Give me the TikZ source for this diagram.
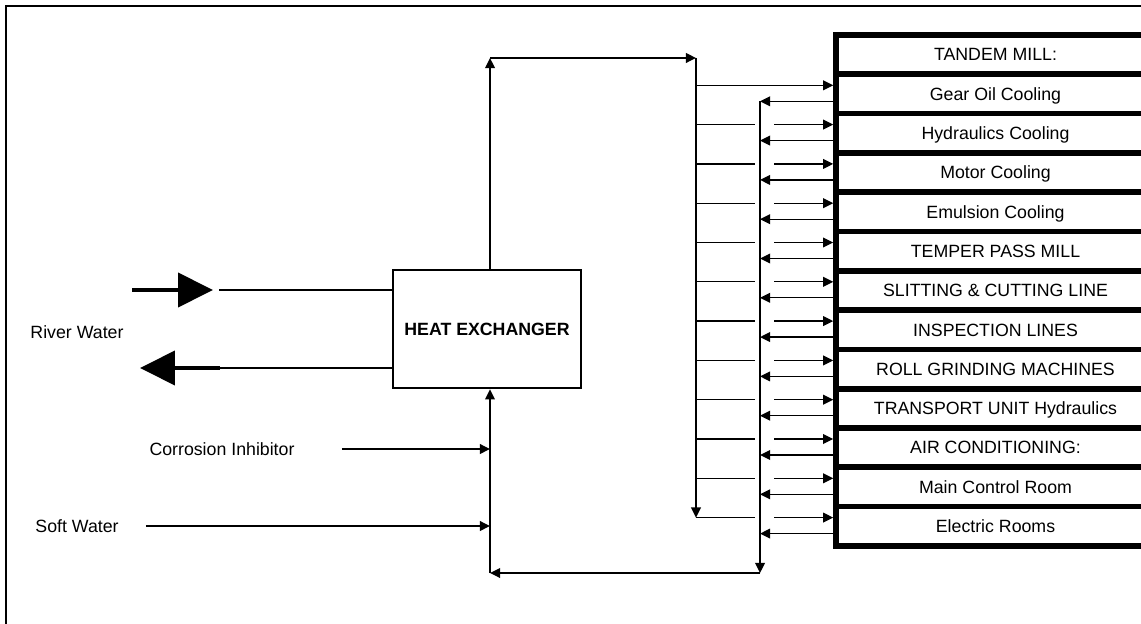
\documentclass[tikz,border=0pt]{standalone}
\usepackage{fontspec}
\setmainfont{Liberation Sans}
\usetikzlibrary{arrows.meta}

\begin{document}
\begin{tikzpicture}[
    x=0.02cm, y=-0.02cm,
    >={Triangle[length=5.8pt,width=5.6pt]},
    pipe/.style={line width=0.75pt},
    bigpipe/.style={line width=2.3pt,-{Triangle[length=0.7cm,width=0.68cm]}},
    unit/.style={draw,line width=3.2pt,minimum width=6.38cm,minimum height=0.786cm,
        inner sep=0pt,text height=7.2pt,text depth=0pt,
        font=\fontsize{10.1}{12}\selectfont},
    lbl/.style={inner sep=0pt,font=\fontsize{10.1}{12}\selectfont},
]
\useasboundingbox (0,0) rectangle (1141,624);
\clip (0,0) rectangle (1141,624);

% Frame
\draw[line width=1.1pt] (6,624) -- (6,6) -- (1141,6);

% Heat exchanger
\node[draw,line width=1.5pt,minimum width=3.76cm,minimum height=2.36cm,
    font=\fontsize{10.1}{12}\selectfont\bfseries] (hx) at (487,329) {HEAT EXCHANGER};

% Consumers
\foreach \lab [count=\k from 0] in {TANDEM MILL:, Gear Oil Cooling,
    Hydraulics Cooling, Motor Cooling, Emulsion Cooling, TEMPER PASS MILL,
    SLITTING \& CUTTING LINE, INSPECTION LINES, ROLL GRINDING MACHINES,
    TRANSPORT UNIT Hydraulics, AIR CONDITIONING:, Main Control Room,
    Electric Rooms} {
    \node[unit] (r\k) at (995.5,{54.65+39.3*\k}) {\lab};
}

% Trunk corners
\coordinate (up) at (490,58);
\coordinate (supply) at (696,58);
\coordinate (ret) at (760,573);

% Branch ends at the consumers
\foreach \k in {1,...,12} {
    \coordinate (a\k) at ([yshift=0.173cm]r\k.west);
    \coordinate (b\k) at ([yshift=-0.147cm]r\k.west);
}

% Cooled water to the consumers
\draw[pipe,->] (up |- hx.north) -- (up);
\draw[pipe,->] (up) -- (supply);
\draw[pipe,->] (supply) -- (supply |- a12);
\draw[pipe,->] (supply |- a1) -- (a1);
\foreach \k in {2,...,12} {
    \draw[pipe] (supply |- a\k) -- ([xshift=-0.1cm]ret |- a\k);
    \draw[pipe,->] ([xshift=0.28cm]ret |- a\k) -- (a\k);
}

% Return line
\foreach \k in {1,...,12} {
    \draw[pipe,->] (b\k) -- (ret |- b\k);
}
\draw[pipe,->] (ret |- b1) -- (ret);
\draw[pipe,->] (ret) -- (up |- ret);
\draw[pipe,->] (up |- ret) -- (up |- hx.south);

% River water
\node[lbl] (river) at (77,332) {River Water};
\coordinate (rin0) at (132,290);
\coordinate (rin1) at (213,290);
\coordinate (rin2) at (219,290);
\coordinate (rout1) at (220,368);
\coordinate (rout0) at (140,368);
\draw[bigpipe] (rin0) -- (rin1);
\draw[pipe] (rin2) -- (hx.west |- rin2);
\draw[pipe] (hx.west |- rout1) -- (rout1);
\draw[bigpipe] (rout1) -- (rout0);

% Make-up and additives
\node[lbl] (ci) at (222,449) {Corrosion Inhibitor};
\node[lbl] (sw) at (77,526) {Soft Water};
\draw[pipe,->] ([xshift=0.94cm]ci.east) -- (up |- ci);
\draw[pipe,->] ([xshift=0.54cm]sw.east) -- (up |- sw);
\end{tikzpicture}
\end{document}
